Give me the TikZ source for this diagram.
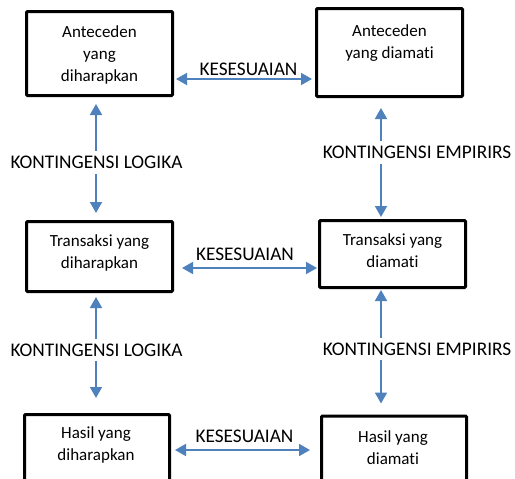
\documentclass[tikz,border=0pt]{standalone}
\usepackage{fontspec}
\setmainfont{Carlito}[Ligatures={NoCommon}]
\usetikzlibrary{arrows.meta}
\definecolor{arrblue}{RGB}{79,129,189}
\begin{document}
\begin{tikzpicture}[x=1pt,y=-1pt,
 box/.style={draw=black, line width=3pt, rounded corners=1pt, inner sep=0pt},
 boxtext/.style={align=center, font=\fontsize{17}{22}\selectfont, inner sep=0pt},
 arr/.style={draw=arrblue, line width=1.8pt, {Triangle[length=11pt,width=12pt]}-{Triangle[length=11pt,width=12pt]}},
 lbl/.style={font=\fontsize{19.3}{23}\selectfont, inner sep=0pt},
 vlbl/.style={lbl, fill=white, inner ysep=5pt, inner xsep=2pt}]
\useasboundingbox (0,0) rectangle (515,479);
\clip (0,0) rectangle (515,479);
% boxes
\node[box, minimum width=146pt, minimum height=84pt] (b1) at (99.5,53.5) {};
\node[box, minimum width=146pt, minimum height=88pt] (b2) at (389.5,52.5) {};
\node[box, minimum width=146pt, minimum height=70pt] (b3) at (99.5,256.5) {};
\node[box, minimum width=146pt, minimum height=67pt] (b4) at (392.5,254) {};
\node[box, minimum width=145pt, minimum height=84pt] (b5) at (97,456.5) {};
\node[box, minimum width=145pt, minimum height=84pt] (b6) at (394,458) {};
% texts
\node[boxtext] (t1) at (99.5,54.5) {Anteceden\\yang\\diharapkan};
\node[boxtext] (t2) at (389.5,43) {Anteceden\\yang diamati};
\node[boxtext] (t3) at (99.5,253) {Transaksi yang\\diharapkan};
\node[boxtext] (t4) at (392.5,251) {Transaksi yang\\diamati};
\node[boxtext] (t5) at (96,445) {Hasil yang\\diharapkan};
\node[boxtext] (t6) at (393,448) {Hasil yang\\diamati};
% horizontal arrows
\draw[arr, shorten <=2pt, shorten >=3pt] ([yshift=-25.5pt]b1.east) -- ([yshift=-26.5pt]b2.west)
  node[lbl, midway, xshift=4pt, yshift=9.5pt] (k1) {KESESUAIAN};
\draw[arr, shorten <=8pt, shorten >=1pt] ([yshift=-11.5pt]b3.east) -- ([yshift=-14pt]b4.west)
  node[lbl, midway, xshift=-1pt, yshift=14pt] (k2) {KESESUAIAN};
\draw[arr, shorten <=4pt, shorten >=10pt] ([yshift=6.5pt]b5.east) -- ([yshift=8pt]b6.west)
  node[lbl, midway, xshift=-1pt, yshift=14pt] (k3) {KESESUAIAN};
% vertical arrows
\draw[arr, shorten <=7pt, shorten >=7pt] ([xshift=-3.5pt]b1.south) -- ([xshift=-3.5pt]b3.north)
  node[vlbl, pos=0.53, xshift=0.5pt] (l1) {KONTINGENSI LOGIKA};
\draw[arr, shorten <=4pt, shorten >=15pt] ([xshift=-3.5pt]b3.south) -- ([xshift=-1pt]b5.north)
  node[vlbl, pos=0.475, xshift=0.5pt] (l2) {KONTINGENSI LOGIKA};
\draw[arr, shorten <=10pt, shorten >=2pt] ([xshift=-8.5pt]b2.south) -- ([xshift=-11.5pt]b4.north)
  node[vlbl, pos=0.45, xshift=36pt] (e1) {KONTINGENSI EMPIRIRS};
\draw[arr, shorten <=1pt, shorten >=11pt] ([xshift=-11.5pt]b4.south) -- ([xshift=-13pt]b6.north)
  node[vlbl, pos=0.478, xshift=36pt] (e2) {KONTINGENSI EMPIRIRS};
\end{tikzpicture}
\end{document}
